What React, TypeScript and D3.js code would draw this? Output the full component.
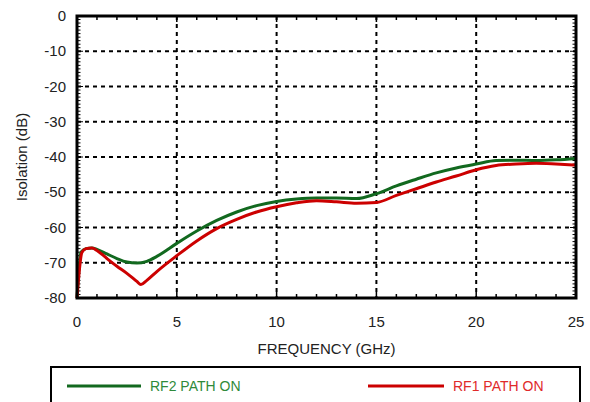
import * as d3 from "d3"

const freqRF2 = [0, 0.2, 0.45, 0.75, 1, 1.5, 2, 2.5, 3, 3.5, 4, 5, 6, 7, 8, 9, 10, 11, 12, 13, 14, 15, 16, 17, 18, 19, 20, 21, 22, 23, 24, 25]
const rf2 = [-80, -67, -66, -65.8, -66.2, -67.5, -68.8, -69.8, -70.1, -69.6, -68.2, -64.5, -61, -58, -55.6, -53.8, -52.6, -51.9, -51.6, -51.6, -51.8, -50.4, -48.2, -46.3, -44.5, -43.1, -42, -41, -40.9, -41, -40.8, -40.4]

const freqRF1 = [0, 0.25, 0.45, 0.75, 1, 1.5, 2, 2.5, 3, 3.2, 3.5, 4, 5, 6, 7, 8, 9, 10, 11, 12, 13, 14, 15, 16, 17, 18, 19, 20, 21, 22, 23, 24, 25]
const rf1 = [-80, -67, -66, -65.8, -66.5, -68.8, -71, -73, -75.3, -76.2, -75, -72.5, -68, -63.8, -60.3, -57.7, -55.6, -54.1, -53, -52.4, -52.7, -53.1, -52.9, -50.9, -49, -47.1, -45.4, -43.6, -42.4, -42, -41.8, -42, -42.3]

const xTicks = [0, 5, 10, 15, 20, 25]
const yTicks = [0, -10, -20, -30, -40, -50, -60, -70, -80]

const GREEN = "#12691f"
const RED = "#cc0000"
const FONT = "'Liberation Sans', Arial, sans-serif"

export default function App() {
  const width = 590
  const height = 402
  const margin = {left: 77, right: 14, top: 16, bottom: 104}
  const x = d3.scaleLinear().domain([0, 25]).range([margin.left, width - margin.right])
  const y = d3.scaleLinear().domain([-80, 0]).range([height - margin.bottom, margin.top])
  const line = d3
    .line<[number, number]>()
    .x((d) => x(d[0]))
    .y((d) => y(d[1]))
    .curve(d3.curveMonotoneX)

  const x0 = x(0), x1 = x(25), y0 = y(-80), y1 = y(0)
  const minorX = d3.range(0, 26)
  const minorY = d3.range(-80, 1, 1)

  return (
    <svg width={width} height={height} style={{position: "absolute", left: 0, top: 0}}>
      {/* grid */}
      {xTicks.slice(1, -1).map((t) => (
        <line key={"gx" + t} x1={x(t)} x2={x(t)} y1={y1} y2={y0} stroke="#000" strokeWidth={2} strokeDasharray="4,4" />
      ))}
      {yTicks.slice(1, -1).map((t) => (
        <line key={"gy" + t} x1={x0} x2={x1} y1={y(t)} y2={y(t)} stroke="#000" strokeWidth={2} strokeDasharray="4,4" />
      ))}
      {/* minor ticks */}
      {minorX.map((t) => {
        const len = t % 5 === 0 ? 6 : 4
        return (
          <g key={"mx" + t}>
            <line x1={x(t)} x2={x(t)} y1={y0} y2={y0 - len} stroke="#000" strokeWidth={1.5} />
            <line x1={x(t)} x2={x(t)} y1={y1} y2={y1 + len} stroke="#000" strokeWidth={1.5} />
          </g>
        )
      })}
      {minorY.map((t) => {
        const len = t % 10 === 0 ? 6 : 3.5
        return (
          <g key={"my" + t}>
            <line x1={x0} x2={x0 + len} y1={y(t)} y2={y(t)} stroke="#000" strokeWidth={1} />
            <line x1={x1} x2={x1 - len} y1={y(t)} y2={y(t)} stroke="#000" strokeWidth={1} />
          </g>
        )
      })}
      {/* series */}
      <path d={line(freqRF2.map((f, i) => [f, rf2[i]]) as [number, number][]) ?? ""} fill="none" stroke={GREEN} strokeWidth={3} />
      <path d={line(freqRF1.map((f, i) => [f, rf1[i]]) as [number, number][]) ?? ""} fill="none" stroke={RED} strokeWidth={3} />
      {/* frame */}
      <rect x={x0} y={y1} width={x1 - x0} height={y0 - y1} fill="none" stroke="#000" strokeWidth={3} />
      {/* tick labels */}
      {xTicks.map((t) => (
        <text key={"tx" + t} x={x(t)} y={y0 + 29} textAnchor="middle" fontFamily={FONT} fontSize={15} fill="#222">
          {t}
        </text>
      ))}
      {yTicks.map((t) => (
        <text key={"ty" + t} x={x0 - 11} y={y(t) + 5} textAnchor="end" fontFamily={FONT} fontSize={15} fill="#222">
          {t}
        </text>
      ))}
      <text x={(x0 + x1) / 2} y={y0 + 56} textAnchor="middle" fontFamily={FONT} fontSize={15} fill="#222">
        FREQUENCY (GHz)
      </text>
      <text transform={`translate(27, ${(y0 + y1) / 2}) rotate(-90)`} textAnchor="middle" fontFamily={FONT} fontSize={15} fill="#222">
        Isolation (dB)
      </text>
      {/* legend */}
      <rect x={51} y={367} width={529} height={45} fill="#fff" stroke="#000" strokeWidth={2} />
      <line x1={67} x2={141} y1={386} y2={386} stroke={GREEN} strokeWidth={3} />
      <text x={150} y={391} fontFamily={FONT} fontSize={14} fill="#2f8a3a">RF2 PATH ON</text>
      <line x1={368} x2={444} y1={386} y2={386} stroke={RED} strokeWidth={3} />
      <text x={453} y={391} fontFamily={FONT} fontSize={14} fill="#e02a2a">RF1 PATH ON</text>
    </svg>
  )
}
